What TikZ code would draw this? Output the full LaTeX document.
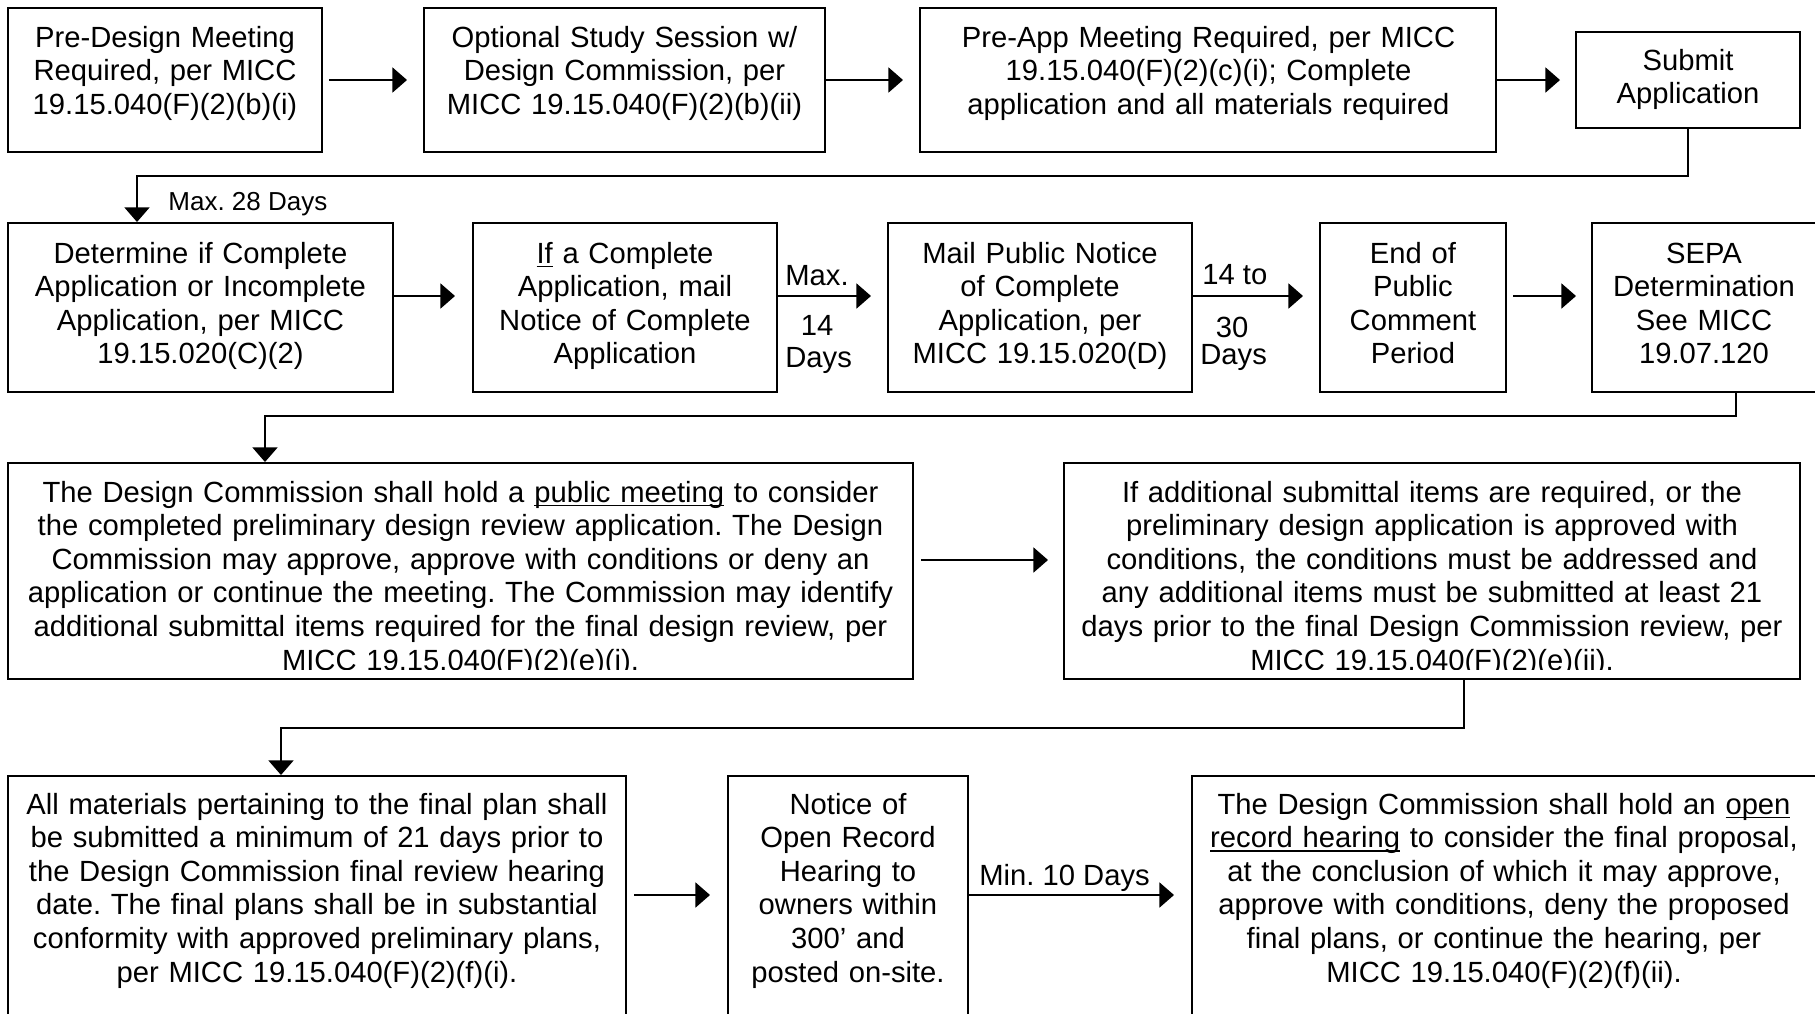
\documentclass[tikz,border=0pt]{standalone}
\usepackage{fontspec}
\setmainfont{Liberation Sans}
\usetikzlibrary{arrows.meta,fit}
\newcommand\myul[1]{\leavevmode\setbox0\hbox{#1}\rlap{\rule[-2.2pt]{\wd0}{0.9pt}}\box0\relax}
\frenchspacing
\begin{document}
\begin{tikzpicture}[x=0.5pt,y=-0.5pt,
  box/.style={draw, line width=1pt, inner sep=0pt},
  txt/.style={inner sep=0pt, anchor=base, align=center, text width=470pt, font=\fontsize{14.6pt}{16.8pt}\selectfont},
  lbl/.style={inner sep=0pt, anchor=base west, font=\fontsize{14.6pt}{16.8pt}\selectfont},
  arr/.style={line width=1pt, -{Triangle[length=7.3pt,width=12.5pt]}},
  elb/.style={line width=0.85pt, -{Triangle[length=7.3pt,width=12.5pt]}}]
\useasboundingbox (0,0) rectangle (1815,1013);
\clip (0,0) rectangle (1815,1013);
\fill[white] (0,0) rectangle (1815,1013);

% boxes
\node[box, fit={(8,8) (322,152)}] (b1) {};
\node[box, fit={(424,8) (825,152)}] (b2) {};
\node[box, fit={(920,8) (1496,152)}] (b3) {};
\node[box, fit={(1576,32) (1800,128)}] (b4) {};
\node[box, fit={(8,223) (393,392)}] (b5) {};
\node[box, fit={(473,223) (777,392)}] (b6) {};
\node[box, fit={(888,223) (1192,392)}] (b7) {};
\node[box, fit={(1320,223) (1506,392)}] (b8) {};
\node[box, fit={(1592,223) (1816,392)}] (b9) {};
\node[box, fit={(8,463) (913,679)}] (b10) {};
\node[box, fit={(1064,463) (1800,679)}] (b11) {};
\node[box, fit={(8,776) (626,1040)}] (b12) {};
\node[box, fit={(728,776) (968,1040)}] (b13) {};
\node[box, fit={(1192,776) (1818,1040)}] (b14) {};

% texts
\node[txt] (t1) at (165,47) {Pre-Design Meeting\\Required, per MICC\\19.15.040(F)(2)(b)(i)};
\node[txt] (t2) at (624.5,47) {Optional Study Session w/\\Design Commission, per\\MICC 19.15.040(F)(2)(b)(ii)};
\node[txt] (t3) at (1208.5,47) {Pre-App Meeting Required, per MICC\\19.15.040(F)(2)(c)(i); Complete\\application and all materials required};
\node[txt] (t4) at (1688,70) {Submit\\Application};
\node[txt] (t5) at (200.5,263) {Determine if Complete\\Application or Incomplete\\Application, per MICC\\19.15.020(C)(2)};
\node[txt] (t6) at (625,263) {\myul{If} a Complete\\Application, mail\\Notice of Complete\\Application};
\node[txt] (t7) at (1040,263) {Mail Public Notice\\of Complete\\Application, per\\MICC 19.15.020(D)};
\node[txt] (t8) at (1413,263) {End of\\Public\\Comment\\Period};
\node[txt] (t9) at (1704,263) {SEPA\\Determination\\See MICC\\19.07.120};
\coordinate (cut) at (0,669);
\begin{scope}
\clip (b10.north west) rectangle (b10.east |- cut);
\node[txt] (t10) at (460.5,502) {The Design Commission shall hold a \myul{public meeting} to consider\\the completed preliminary design review application. The Design\\Commission may approve, approve with conditions or deny an\\application or continue the meeting. The Commission may identify\\additional submittal items required for the final design review, per\\MICC 19.15.040(F)(2)(e)(i).};
\end{scope}
\begin{scope}
\clip (b11.north west) rectangle (b11.east |- cut);
\node[txt] (t11) at (1432,502) {If additional submittal items are required, or the\\preliminary design application is approved with\\conditions, the conditions must be addressed and\\any additional items must be submitted at least 21\\days prior to the final Design Commission review, per\\MICC 19.15.040(F)(2)(e)(ii).};
\end{scope}
\node[txt] (t12) at (317,814) {All materials pertaining to the final plan shall\\be submitted a minimum of 21 days prior to\\the Design Commission final review hearing\\date. The final plans shall be in substantial\\conformity with approved preliminary plans,\\per MICC 19.15.040(F)(2)(f)(i).};
\node[txt] (t13) at (848,814) {Notice of\\Open Record\\Hearing to\\owners within\\300’ and\\posted on-site.};
\node[txt] (t14) at (1504,814) {The Design Commission shall hold an \myul{open}\\\myul{record hearing} to consider the final proposal,\\at the conclusion of which it may approve,\\approve with conditions, deny the proposed\\final plans, or continue the hearing, per\\MICC 19.15.040(F)(2)(f)(ii).};

% straight arrows
\draw[arr, shorten <=3pt, shorten >=8pt] (b1.east) -- (b2.west);
\draw[arr, shorten >=8pt] (b2.east) -- (b3.west);
\draw[arr, shorten >=7.5pt] (b3.east) -- (b4.west);
\coordinate (r2) at (0,296);
\draw[arr, shorten >=8.5pt] (b5.east |- r2) -- (b6.west |- r2);
\draw[arr, shorten >=8pt] (b6.east |- r2) -- (b7.west |- r2);
\draw[arr, shorten >=8pt] (b7.east |- r2) -- (b8.west |- r2);
\draw[arr, shorten <=3pt, shorten >=7.5pt] (b8.east |- r2) -- (b9.west |- r2);
\coordinate (r3) at (0,560);
\draw[arr, shorten <=3.5pt, shorten >=7.5pt] (b10.east |- r3) -- (b11.west |- r3);
\coordinate (r4) at (0,895);
\draw[arr, shorten <=3.5pt, shorten >=8.5pt] (b12.east |- r4) -- (b13.west |- r4);
\draw[arr, shorten >=8.5pt] (b13.east |- r4) -- (b14.west |- r4);

% elbow connectors
\coordinate (e1) at (137,176);
\draw[elb] (b4.south) |- (e1) -- (e1 |- b5.north);
\coordinate (c9) at (1736,416);
\coordinate (e2) at (265,416);
\draw[elb] (b9.south -| c9) -- (c9) -- (e2) -- (e2 |- b10.north);
\coordinate (c11) at (1464,728);
\coordinate (e3) at (281,728);
\draw[elb] (b11.south -| c11) -- (c11) -- (e3) -- (e3 |- b12.north);

% labels
\node[lbl, font=\fontsize{13pt}{15pt}\selectfont] (l1) at (168,210) {Max. 28 Days};
\node[lbl] (l2) at (785,285) {Max.};
\node[lbl, anchor=base] (l3) at (817,335) {14};
\node[lbl] (l4) at (785,367) {Days};
\node[lbl] (l5) at (1202,284) {14 to};
\node[lbl, anchor=base] (l6) at (1232,337) {30};
\node[lbl] (l7) at (1200,364) {Days};
\node[lbl] (l8) at (979,885) {Min. 10 Days};
\end{tikzpicture}
\end{document}
